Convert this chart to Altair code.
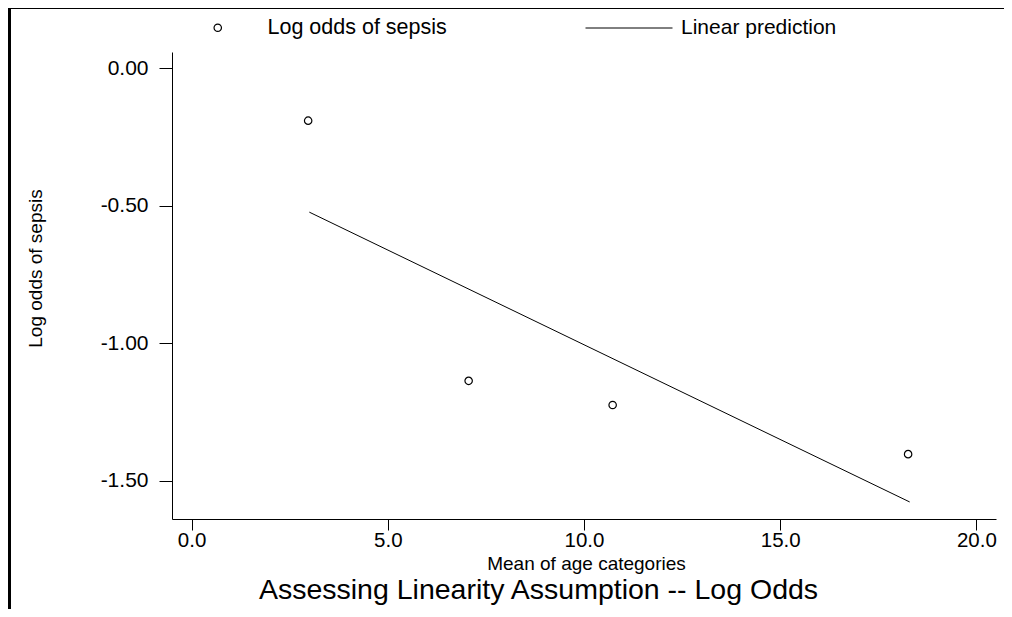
import altair as alt
import pandas as pd

# Data
age_mean = [2.97, 7.06, 10.73, 18.26]
log_odds = [-0.19, -1.137, -1.225, -1.404]
pred_x = [3.0, 18.3]
pred_y = [-0.523, -1.578]
x_ticks = [0, 5, 10, 15, 20]
y_ticks = [0, -0.5, -1.0, -1.5]
point_label = "Log odds of sepsis"
line_label = "Linear prediction"
chart_title = ["Assessing Linearity Assumption -- Log Odds"]

FONT = "Liberation Sans"

pts = pd.DataFrame({"x": age_mean, "y": log_odds, "series": [point_label] * len(age_mean)})
ln = pd.DataFrame({"x": pred_x, "y": pred_y, "series": [line_label] * len(pred_x)})
ttl = pd.DataFrame({"t": chart_title})

xscale = alt.Scale(domain=[-0.5, 20.5], nice=False, zero=False)
yscale = alt.Scale(domain=[-1.64, 0.06], nice=False, zero=False)

xaxis = alt.Axis(
    values=x_ticks, format=".1f", title="Mean of age categories", grid=False,
    tickSize=11, labelPadding=0, labelFontSize=20.5, titleFontSize=19,
    titleX=414, titleY=44, titleBaseline="middle", titleAlign="center",
    titleFontWeight="normal", labelFlush=False,
)
yaxis = alt.Axis(
    values=y_ticks, title="Log odds of sepsis", grid=False,
    labelExpr="datum.value < 0 ? '-' + format(-datum.value, '.2f') : format(datum.value, '.2f')",
    tickSize=13, labelPadding=11, labelFontSize=21, titleFontSize=19,
    titleX=-137, titleY=216, titleBaseline="middle", titleAlign="center", titleAngle=-90,
    titleFontWeight="normal", labelFlush=False,
)

points = alt.Chart(pts).mark_point(filled=False, size=55, strokeWidth=1.2, color="black", opacity=1).encode(
    x=alt.X("x:Q", scale=xscale, axis=xaxis),
    y=alt.Y("y:Q", scale=yscale, axis=yaxis),
    shape=alt.Shape("series:N", scale=alt.Scale(domain=[point_label], range=["circle"]),
                    legend=alt.Legend(orient="none", legendX=35, legendY=-35, title=None,
                                      symbolSize=55, symbolStrokeColor="black", symbolStrokeWidth=1.2,
                                      symbolFillColor="transparent", labelOffset=39, labelFontSize=21.5,
                                      labelFont=FONT, labelColor="black", labelLimit=0, padding=0)),
)

line = alt.Chart(ln).mark_line(color="black", strokeWidth=1).encode(
    x=alt.X("x:Q", scale=xscale),
    y=alt.Y("y:Q", scale=yscale),
    color=alt.Color("series:N", scale=alt.Scale(domain=[line_label], range=["black"]),
                    legend=alt.Legend(orient="none", legendX=413, legendY=-68, title=None,
                                      symbolType="stroke", symbolSize=7569, symbolStrokeWidth=1,
                                      labelOffset=8, labelFontSize=21, labelFont=FONT,
                                      labelColor="black", labelLimit=0, padding=0)),
)

title_text = alt.Chart(ttl).mark_text(
    font=FONT, fontSize=28.5, color="black", align="center", baseline="middle"
).encode(x=alt.value(366.5), y=alt.value(538), text="t:N")

frame_top = alt.Chart(pts).mark_rule(color="black", strokeWidth=3).encode(
    x=alt.value(-164), x2=alt.value(840), y=alt.value(-44.5)
)
frame_left = alt.Chart(pts).mark_rule(color="black", strokeWidth=3).encode(
    x=alt.value(-162.5), y=alt.value(-46), y2=alt.value(560)
)

chart = alt.layer(frame_top, frame_left, line, points, title_text).resolve_legend(
    shape="independent", color="independent"
).properties(
    width=824, height=467,
    background="white",
    autosize=alt.AutoSizeParams(type="none"),
    padding={"left": 164, "top": 44, "right": 8, "bottom": 90},
).configure_axis(
    domainColor="black", tickColor="black", labelColor="black", titleColor="black",
    labelFont=FONT, titleFont=FONT, titleFontWeight="normal", grid=False,
    domainWidth=1, tickWidth=1,
).configure_view(stroke=None)

chart.save("out.html", embed_options={"renderer": "svg", "actions": False})
